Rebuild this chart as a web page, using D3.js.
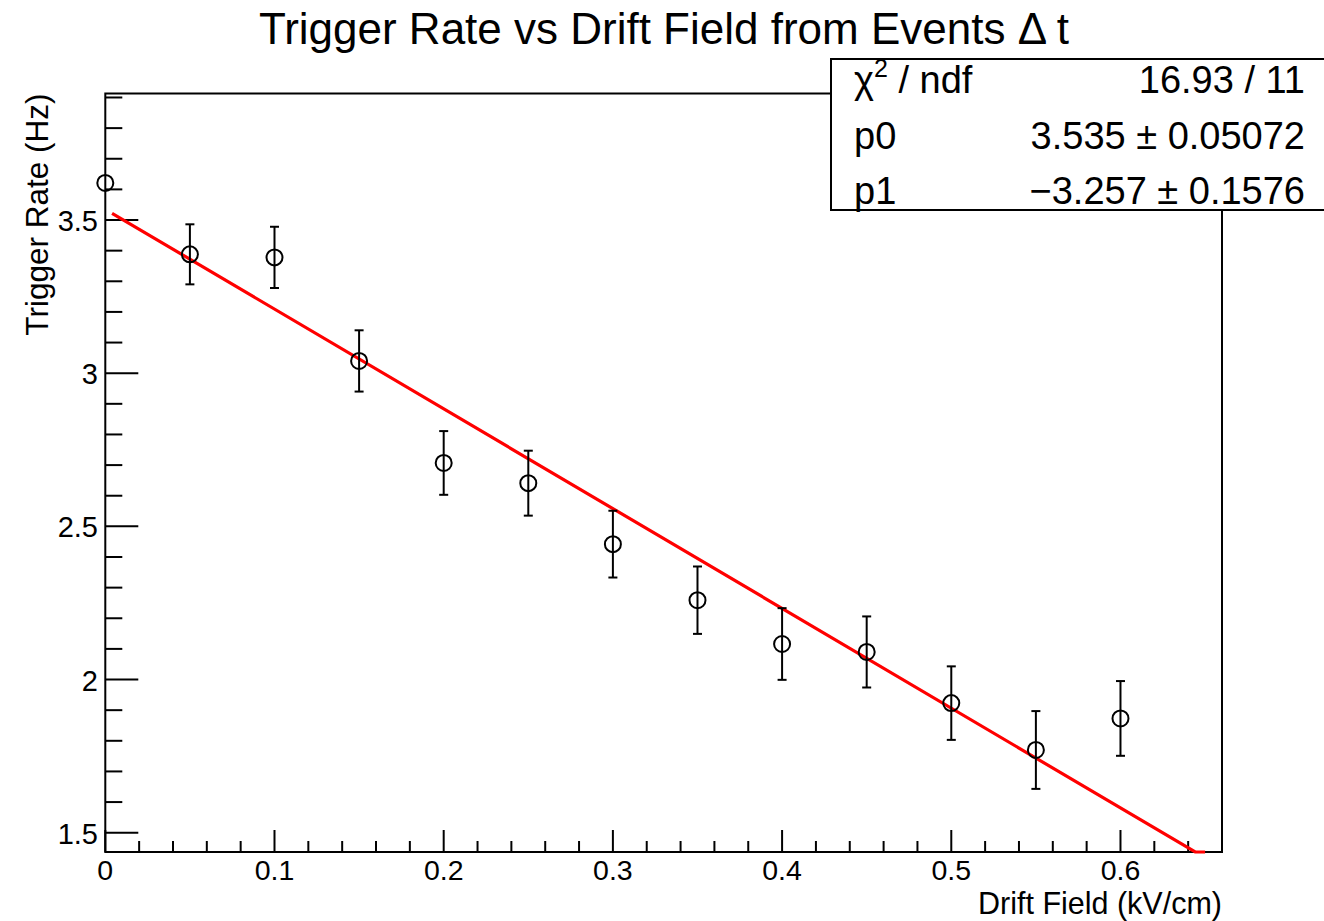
<!DOCTYPE html>
<html>
<head>
<meta charset="utf-8">
<script src="https://cdn.jsdelivr.net/npm/d3@7/dist/d3.min.js"></script>
<style>
  body { margin: 0; background: #fff; }
  svg { display: block; font-family: "Liberation Sans", Arial, Helvetica, sans-serif; }
</style>
</head>
<body>
<svg width="1324" height="921"></svg>
<script>
/* global d3 */
// Drift field values (kV/cm)
const fields = [0, 0.05, 0.1, 0.15, 0.2, 0.25, 0.3, 0.35, 0.4, 0.45, 0.5, 0.55, 0.6];
// Measured trigger rate (Hz)
const rates = [3.621, 3.388, 3.378, 3.040, 2.707, 2.641, 2.442, 2.259, 2.116, 2.090, 1.923, 1.770, 1.873];
// Error on rate (first point's bar not drawn in the reference)
const rateErrors = [null, 0.098, 0.100, 0.100, 0.104, 0.106, 0.109, 0.110, 0.117, 0.116, 0.120, 0.127, 0.122];

// Linear fit result
const fitP0 = 3.535;
const fitP1 = -3.257;
const fitRange = [0.004, 0.65];

const statsRows = [
  ['χ2 / ndf', '16.93 / 11'],
  ['p0', '3.535 ± 0.05072'],
  ['p1', '−3.257 ± 0.1576'],
];

const xMajor = [0, 0.1, 0.2, 0.3, 0.4, 0.5, 0.6];
const yMajor = [1.5, 2, 2.5, 3, 3.5];

const svg = d3.select('svg');
const frame = { left: 105.3, right: 1222, top: 93.5, bottom: 852 };

const x = d3.scaleLinear().domain([0, 0.66]).range([frame.left, frame.right]);
const y = d3.scaleLinear().domain([1.437, 3.913]).range([frame.bottom, frame.top]);

// Title
svg.append('text')
  .attr('x', 664).attr('y', 44)
  .attr('text-anchor', 'middle')
  .attr('font-size', 44)
  .text('Trigger Rate vs Drift Field from Events Δ t');

// Frame
svg.append('rect')
  .attr('x', frame.left).attr('y', frame.top)
  .attr('width', frame.right - frame.left)
  .attr('height', frame.bottom - frame.top)
  .attr('fill', 'none').attr('stroke', '#000').attr('stroke-width', 2);

// X axis ticks
const xMinor = d3.range(0, 0.6601, 0.02).map(v => +v.toFixed(2));
svg.append('g').selectAll('line').data(xMinor)
  .enter().append('line')
    .attr('x1', d => x(d)).attr('x2', d => x(d))
    .attr('y1', frame.bottom)
    .attr('y2', d => frame.bottom - (xMajor.some(m => Math.abs(m - d) < 1e-6) ? 22 : 11))
    .attr('stroke', '#000').attr('stroke-width', 2);

svg.append('g').selectAll('text').data(xMajor)
  .enter().append('text')
    .attr('x', d => x(d)).attr('y', 880)
    .attr('text-anchor', 'middle')
    .attr('font-size', 28.5)
    .text(d => d3.format('')(d));

// Y axis ticks
const yMinor = d3.range(1.5, 3.9001, 0.1).map(v => +v.toFixed(1));
svg.append('g').selectAll('line').data(yMinor)
  .enter().append('line')
    .attr('x1', frame.left)
    .attr('x2', d => frame.left + (yMajor.some(m => Math.abs(m - d) < 1e-6) ? 33 : 17))
    .attr('y1', d => y(d)).attr('y2', d => y(d))
    .attr('stroke', '#000').attr('stroke-width', 2);

svg.append('g').selectAll('text').data(yMajor)
  .enter().append('text')
    .attr('x', 98).attr('y', d => y(d) + 11)
    .attr('text-anchor', 'end')
    .attr('font-size', 29)
    .text(d => d3.format('')(d));

// Axis titles
svg.append('text')
  .attr('x', frame.right).attr('y', 914)
  .attr('text-anchor', 'end')
  .attr('font-size', 30.5)
  .text('Drift Field (kV/cm)');

svg.append('text')
  .attr('transform', 'translate(48,' + frame.top + ') rotate(-90)')
  .attr('text-anchor', 'end')
  .attr('font-size', 31.5)
  .text('Trigger Rate (Hz)');

// Fit line, clamped to the frame like ROOT does
const fit = v => fitP0 + fitP1 * v;
const yMin = y.domain()[0];
const xCross = (yMin - fitP0) / fitP1;
const fitPts = [fitRange[0], Math.min(xCross, fitRange[1]), fitRange[1]]
  .map(v => [v, Math.max(fit(v), yMin)]);

svg.append('path')
  .datum(fitPts)
  .attr('fill', 'none')
  .attr('stroke', '#ff0000')
  .attr('stroke-width', 3.2)
  .attr('d', d3.line().x(d => x(d[0])).y(d => y(d[1])));

// Data points with error bars
const points = fields.map((f, i) => ({ f, r: rates[i], e: rateErrors[i] }));
const pg = svg.append('g').selectAll('g').data(points)
  .enter().append('g');

const withErr = pg.filter(d => d.e != null);
withErr.append('line')
  .attr('x1', d => x(d.f)).attr('x2', d => x(d.f))
  .attr('y1', d => y(d.r + d.e)).attr('y2', d => y(d.r - d.e))
  .attr('stroke', '#000').attr('stroke-width', 2);
withErr.selectAll('.cap')
  .data(d => [[d.f, d.r + d.e], [d.f, d.r - d.e]])
  .enter().append('line')
    .attr('class', 'cap')
    .attr('x1', d => x(d[0]) - 4.5).attr('x2', d => x(d[0]) + 4.5)
    .attr('y1', d => y(d[1])).attr('y2', d => y(d[1]))
    .attr('stroke', '#000').attr('stroke-width', 2);

pg.append('circle')
  .attr('cx', d => x(d.f)).attr('cy', d => y(d.r))
  .attr('r', 8)
  .attr('fill', 'none')
  .attr('stroke', '#000').attr('stroke-width', 2);

// Stats box
const stats = svg.append('g');
stats.append('rect')
  .attr('x', 831).attr('y', 59)
  .attr('width', 500).attr('height', 151)
  .attr('fill', '#fff').attr('stroke', '#000').attr('stroke-width', 2);

const rowBase = [93, 149, 204];
statsRows.forEach((row, i) => {
  const label = stats.append('text')
    .attr('x', 854).attr('y', rowBase[i])
    .attr('font-size', 38);
  if (row[0].startsWith('χ2')) {
    label.append('tspan').text('χ');
    label.append('tspan').attr('dy', -16).attr('font-size', 25).text('2');
    label.append('tspan').attr('dy', 16).text(' / ndf');
  } else {
    label.text(row[0]);
  }
  stats.append('text')
    .attr('x', 1305).attr('y', rowBase[i])
    .attr('text-anchor', 'end')
    .attr('font-size', 38)
    .text(row[1]);
});
</script>
</body>
</html>
